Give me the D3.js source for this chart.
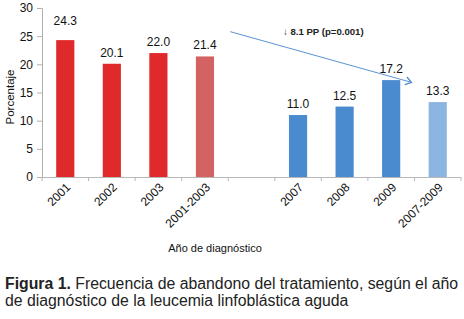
<!DOCTYPE html>
<html><head><meta charset="utf-8">
<script src="https://cdn.jsdelivr.net/npm/d3@7"></script>
<style>
html,body{margin:0;padding:0;background:#fff;}
svg{display:block;font-family:"Liberation Sans",Arial,sans-serif;}
</style></head>
<body>
<svg id="c" width="464" height="319"></svg>
<script>
const categories = ["2001","2002","2003","2001-2003","","2007","2008","2009","2007-2009"];
const values = [24.3, 20.1, 22.0, 21.4, null, 11.0, 12.5, 17.2, 13.3];
const groups = ["a","a","a","aT",null,"b","b","b","bT"];
const yTicks = [0,5,10,15,20,25,30];
const colors = {a:"#e0292a", aT:"#d36262", b:"#4a8bd0", bT:"#8cb5e2"};
const annotation = "\u2193 8.1 PP (p=0.001)";
const arrowFrom = {cat:"", value:25.8};
const arrowTo = {cat:"2007-2009", value:16.8};

(function(){
const svg = d3.select("#c");
const mLeft = 42, mRight = 461, mTop = 8, mBottom = 177;
const keys = categories.map((c,i)=> c===""?"gap":c);
const x = d3.scaleBand().domain(keys).range([mLeft,mRight]).padding(0);
const y = d3.scaleLinear().domain([0,30]).range([mBottom,mTop]);
const bw = x.bandwidth();
const barW = bw*0.39;

// y axis
const ya = svg.append("g").attr("transform",`translate(${mLeft},0)`)
  .call(d3.axisLeft(y).tickValues(yTicks).tickSize(5).tickPadding(4));
ya.select(".domain").attr("stroke","#b0b0b0");
ya.selectAll(".tick line").attr("stroke","#b0b0b0");
ya.selectAll("text").attr("font-size",12).attr("fill","#111").attr("font-family","Liberation Sans, Arial");

// x axis line and boundary ticks
svg.append("line").attr("x1",mLeft).attr("x2",mRight).attr("y1",mBottom+0.5).attr("y2",mBottom+0.5).attr("stroke","#b8b8b8");
const bounds = keys.map(k=>x(k)).concat([mRight]);
svg.selectAll(".xb").data(bounds).enter().append("line")
  .attr("x1",d=>d).attr("x2",d=>d).attr("y1",mBottom).attr("y2",mBottom+4).attr("stroke","#b8b8b8");

// bars
const data = keys.map((k,i)=>({k, cat:categories[i], v:values[i], g:groups[i]})).filter(d=>d.v!==null);
svg.selectAll(".bar").data(data).enter().append("rect")
  .attr("x",d=>x(d.k)+bw/2-barW/2).attr("width",barW)
  .attr("y",d=>y(d.v)).attr("height",d=>y(0)-y(d.v))
  .attr("fill",d=>colors[d.g]);

// value labels
svg.selectAll(".vl").data(data).enter().append("text")
  .attr("x",d=>x(d.k)+bw/2).attr("y",d=>y(d.v)-(d.cat==="2001"?15:7))
  .attr("text-anchor","middle").attr("font-size",12).attr("fill","#111")
  .text(d=>d.v.toFixed(1));

// x labels rotated
svg.selectAll(".xl").data(data).enter().append("text")
  .attr("transform",d=>`translate(${x(d.k)+bw/2+3},${mBottom+8}) rotate(-45)`)
  .attr("text-anchor","end").attr("dy","0.35em").attr("font-size",12).attr("fill","#111")
  .text(d=>d.cat);

// axis titles
svg.append("text").attr("transform","translate(14,97) rotate(-90)")
  .attr("text-anchor","middle").attr("font-size",11.5).attr("fill","#111").text("Porcentaje");
svg.append("text").attr("x",215).attr("y",252).attr("text-anchor","middle")
  .attr("font-size",11).attr("fill","#111").text("Año de diagnóstico");

// arrow annotation
const ax1 = x(arrowFrom.cat===""?"gap":arrowFrom.cat)+2, ay1 = y(arrowFrom.value);
const ax2 = x(arrowTo.cat)-3, ay2 = y(arrowTo.value);
svg.append("line").attr("x1",ax1).attr("y1",ay1).attr("x2",ax2).attr("y2",ay2)
  .attr("stroke","#5b93d3").attr("stroke-width",1);
const ang = Math.atan2(ay2-ay1, ax2-ax1);
const L = 7, spread = 0.6;
const p1 = [ax2 - L*Math.cos(ang-spread), ay2 - L*Math.sin(ang-spread)];
const p2 = [ax2 - L*Math.cos(ang+spread), ay2 - L*Math.sin(ang+spread)];
svg.append("path").attr("d",`M${p1[0]},${p1[1]}L${ax2},${ay2}L${p2[0]},${p2[1]}`)
  .attr("fill","none").attr("stroke","#4a8bd0").attr("stroke-width",1.3);
svg.append("text").attr("x",283).attr("y",35).attr("font-size",9.6).attr("font-weight","bold")
  .attr("fill","#222").text(annotation);

// caption
const cap = svg.append("text").attr("x",5).attr("y",289).attr("font-size",15.8).attr("fill","#222");
cap.append("tspan").attr("font-weight","bold").text("Figura 1.");
cap.append("tspan").text(" Frecuencia de abandono del tratamiento, según el año");
svg.append("text").attr("x",5).attr("y",306).attr("font-size",15.8).attr("fill","#222")
  .text("de diagnóstico de la leucemia linfoblástica aguda");
})();
</script>
</body></html>
